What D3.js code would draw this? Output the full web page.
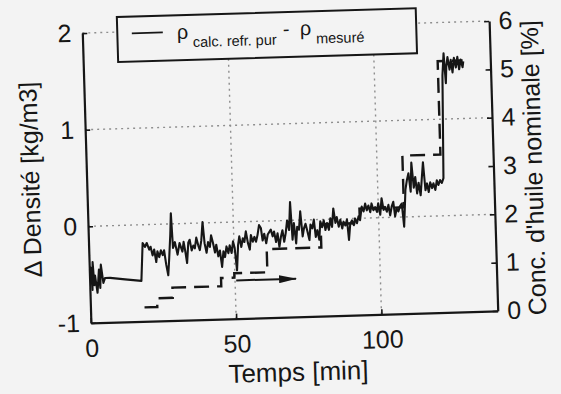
<!DOCTYPE html>
<html><head><meta charset="utf-8">
<script src="https://cdn.jsdelivr.net/npm/d3@7"></script>
<style>html,body{margin:0;padding:0;background:#f3f3f3;} svg{display:block;}</style>
</head><body>
<svg id="chart" width="561" height="394"></svg>
<script>
// ---- data ----
const times = [0.2,0.55,0.9,1.2,1.6,1.9,2.6,3.3,3.6,4.0,4.7,5.3,7.1,12.2,17.8,
18.6,19.4,20.0,20.8,21.3,21.9,22.5,23.1,23.6,24.2,24.8,25.4,25.9,26.5,27.1,27.6,28.2,28.6,29.0,29.7,30.5,31.3,32.2,32.7,33.2,33.7,34.3,34.8,35.4,36.0,36.5,37.1,37.7,38.2,38.8,39.4,39.9,40.5,41.1,41.7,42.2,42.8,43.4,43.9,44.5,45.1,45.7,46.3,46.8,47.4,48.0,48.5,49.1,49.7,50.2,50.8,51.4,51.9,52.5,53.1,53.6,54.2,54.8,55.4,55.9,56.5,57.1,57.6,58.2,58.8,59.4,59.9,60.5,61.1,61.7,62.8,63.4,63.9,64.5,65.1,65.6,66.2,66.8,67.3,67.9,
68.5,69.1,69.7,70.2,70.8,71.4,71.9,72.5,73.1,73.7,74.2,74.8,75.4,76.0,76.5,77.1,77.7,78.2,78.8,79.4,79.9,80.5,81.1,81.6,82.2,82.8,83.4,83.9,84.5,85.1,85.6,86.2,86.8,87.4,87.9,88.5,89.1,89.6,90.2,90.8,91.4,91.9,92.5,93.1,93.6,
94.3,94.9,95.5,96.0,96.6,97.2,97.7,98.3,98.9,99.5,100.0,100.6,101.2,101.8,102.3,102.9,103.5,104.0,104.6,105.2,105.7,106.3,106.9,107.4,108.1,108.7,109.5,110.1,
110.7,111.3,111.8,112.4,113.0,113.5,114.1,114.7,115.2,115.8,116.4,117.0,117.5,118.1,118.7,119.2,119.8,120.4,120.9,121.5,122.1,122.7,
123.4,124.0,124.5,124.8,125.3,125.9,126.4,126.9,127.5,128.1,128.7,129.2,129.8,130.4,130.7];
const deltaDensity = [-0.42,-0.43,-0.66,-0.37,-0.61,-0.51,-0.69,-0.45,-0.64,-0.40,-0.59,-0.54,-0.54,-0.56,-0.58,
-0.19,-0.23,-0.19,-0.26,-0.23,-0.32,-0.26,-0.39,-0.28,-0.34,-0.27,-0.32,-0.27,-0.42,-0.53,-0.35,-0.11,0.11,-0.25,-0.19,-0.32,-0.20,-0.29,-0.19,-0.29,-0.41,-0.20,-0.17,-0.28,-0.23,-0.26,-0.15,-0.23,-0.28,-0.18,0.01,-0.21,-0.31,-0.20,-0.25,-0.13,-0.21,-0.31,-0.23,-0.35,-0.29,-0.46,-0.30,-0.36,-0.25,-0.32,-0.24,-0.32,-0.20,-0.27,-0.50,-0.24,-0.15,-0.26,-0.17,-0.21,-0.10,-0.22,-0.29,-0.14,-0.21,-0.16,-0.21,-0.14,-0.04,-0.07,-0.20,-0.13,-0.23,-0.14,-0.09,-0.16,-0.11,-0.22,-0.13,-0.27,-0.17,-0.10,-0.22,-0.13,
0.00,-0.10,0.19,-0.20,-0.03,-0.24,-0.07,-0.10,0.09,-0.17,-0.09,-0.04,-0.12,-0.21,-0.05,-0.09,0.00,-0.18,-0.11,-0.21,-0.02,-0.08,-0.01,-0.11,-0.04,-0.11,0.01,-0.08,0.11,-0.04,0.02,-0.08,-0.01,-0.10,-0.03,-0.07,-0.01,-0.22,-0.05,-0.02,-0.07,0.00,-0.05,0.02,-0.02,
0.12,0.07,0.15,0.08,0.13,0.06,0.15,0.08,0.11,0.06,0.15,0.03,0.20,0.08,0.11,0.06,0.13,0.02,0.11,0.16,0.01,0.09,0.06,0.11,0.14,-0.10,0.28,0.38,
0.45,0.26,0.56,0.30,0.41,0.24,0.35,0.22,0.38,0.56,0.27,0.34,0.25,0.35,0.29,0.34,0.27,0.37,0.32,0.37,0.34,0.39,
1.45,1.68,1.37,1.54,1.64,1.51,1.61,1.48,1.63,1.53,1.64,1.51,1.61,1.53,1.59];

const concTimes  = [18.6, 23.0, 28.4, 45.2, 49.8, 61.2, 80.0, 93.5, 108.8, 121.9, 130.5];
const concValues = [0.29, 0.47, 0.68, 0.85, 0.94, 1.42, 1.90, 2.20, 3.27, 5.20, 5.20];

const arrowTimes = [50.4, 71.0];
const arrowConc  = [0.79, 0.79];

const xTicks = [0, 50, 100];
const yLeftTicks = [-1, 0, 1, 2];
const yRightTicks = [0, 1, 2, 3, 4, 5, 6];
const gridLeftValues = [0, 1, 2];
const gridTimeValues = [50, 100];

const xLabel = "Temps [min]";
const yLeftLabel = "Δ Densité [kg/m3]";
const yRightLabel = "Conc. d'huile nominale [%]";

// ---- drawing ----
const W = 561, H = 394;
const BG = "#f3f3f3", INK = "#161616";
const FONT = '"Liberation Sans", Arial, Helvetica, sans-serif';
const svg = d3.select("#chart");
svg.append("rect").attr("width", W).attr("height", H).attr("fill", BG);

const defs = svg.append("defs");
defs.append("marker").attr("id", "ah").attr("viewBox", "0 0 18 8")
  .attr("refX", 17).attr("refY", 4).attr("markerUnits", "userSpaceOnUse")
  .attr("markerWidth", 18).attr("markerHeight", 8).attr("orient", "auto")
  .append("path").attr("d", "M0,0L18,4L0,8Z").attr("fill", INK);

const g = svg.append("g").attr("transform", "rotate(-1.7,290,172)");

const x = d3.scaleLinear().domain([0, 140]).range([86.5, 493.5]);
const yL = d3.scaleLinear().domain([-1, 2]).range([317, 27]);
const yR = d3.scaleLinear().domain([0, 6]).range([317, 27]);

// grid
const grid = g.append("g").attr("stroke", "#8e8e8e").attr("stroke-width", 1.4)
  .attr("stroke-dasharray", "2,4").attr("fill", "none");
grid.selectAll("line.h").data(gridLeftValues).join("line").attr("class", "h")
  .attr("x1", x(0)).attr("x2", x(140)).attr("y1", d => yL(d)).attr("y2", d => yL(d));
grid.selectAll("line.v").data(gridTimeValues).join("line").attr("class", "v")
  .attr("x1", d => x(d)).attr("x2", d => x(d)).attr("y1", yL(-1)).attr("y2", yL(2));

// axes
function styleAxis(sel) {
  sel.select(".domain").attr("stroke", INK).attr("stroke-width", 2.2);
  sel.selectAll(".tick line").attr("stroke", INK).attr("stroke-width", 1.6);
  sel.selectAll(".tick text").attr("fill", INK).style("font-family", FONT).style("font-size", "25px");
}
const fmt = d => String(d);
g.append("g").attr("transform", `translate(${x(0)},0)`)
  .call(d3.axisLeft(yL).tickValues(yLeftTicks).tickSizeInner(-5).tickSizeOuter(0).tickPadding(11).tickFormat(fmt))
  .call(styleAxis);
g.append("g").attr("transform", `translate(${x(140)},0)`)
  .call(d3.axisRight(yR).tickValues(yRightTicks).tickSizeInner(-5).tickSizeOuter(0).tickPadding(9.5).tickFormat(fmt))
  .call(styleAxis);
g.append("g").attr("transform", `translate(0,${yL(-1)})`)
  .call(d3.axisBottom(x).tickValues(xTicks).tickSizeInner(-5).tickSizeOuter(0).tickPadding(16).tickFormat(fmt))
  .call(styleAxis);

// legend box (opaque, hides grid)
const leg = g.append("g");
leg.append("rect").attr("x", 121.5).attr("y", 12).attr("width", 299).attr("height", 45)
  .attr("fill", BG).attr("stroke", INK).attr("stroke-width", 2);
leg.append("line").attr("x1", 136).attr("x2", 167).attr("y1", 28.7).attr("y2", 28.7)
  .attr("stroke", INK).attr("stroke-width", 1.8);
const lt = leg.append("text").attr("y", 35.7).attr("fill", INK).style("font-family", FONT).style("font-size", "20px");
lt.append("tspan").attr("x", 181).text("ρ");
lt.append("tspan").attr("x", 196.8).attr("y", 44.3).style("font-size", "14.5px").text("calc. refr. pur");
lt.append("tspan").attr("x", 287).attr("y", 35.7).text("-");
lt.append("tspan").attr("x", 304).attr("y", 35.7).text("ρ");
lt.append("tspan").attr("x", 320).attr("y", 44.3).style("font-size", "14.5px").text("mesuré");

// nominal concentration (right axis), dashed steps
const concData = concTimes.map((t, i) => ({t, c: concValues[i]}));
g.append("path").datum(concData)
  .attr("d", d3.line().x(d => x(d.t)).y(d => yR(d.c)).curve(d3.curveStepAfter))
  .attr("fill", "none").attr("stroke", INK).attr("stroke-width", 2.4).attr("stroke-dasharray", "15,8");

// density difference (left axis)
const dens = times.map((t, i) => ({t, v: deltaDensity[i]}));
g.append("path").datum(dens)
  .attr("d", d3.line().x(d => x(d.t)).y(d => yL(d.v)))
  .attr("fill", "none").attr("stroke", INK).attr("stroke-width", 2.1).attr("stroke-linejoin", "round");

// arrow annotation
g.append("line")
  .attr("x1", x(arrowTimes[0])).attr("x2", x(arrowTimes[1]))
  .attr("y1", yR(arrowConc[0])).attr("y2", yR(arrowConc[1]))
  .attr("stroke", INK).attr("stroke-width", 2).attr("marker-end", "url(#ah)");

// axis titles
g.append("text").attr("x", 292.5).attr("y", 381).attr("text-anchor", "middle")
  .attr("fill", INK).style("font-family", FONT).style("font-size", "26px").text(xLabel);
g.append("text").attr("transform", "translate(39,172) rotate(-90)").attr("text-anchor", "middle")
  .attr("fill", INK).style("font-family", FONT).style("font-size", "25px").text(yLeftLabel);
g.append("text").attr("transform", "translate(542,175) rotate(-90)").attr("text-anchor", "middle")
  .attr("fill", INK).style("font-family", FONT).style("font-size", "25px").text(yRightLabel);
</script>
</body></html>
